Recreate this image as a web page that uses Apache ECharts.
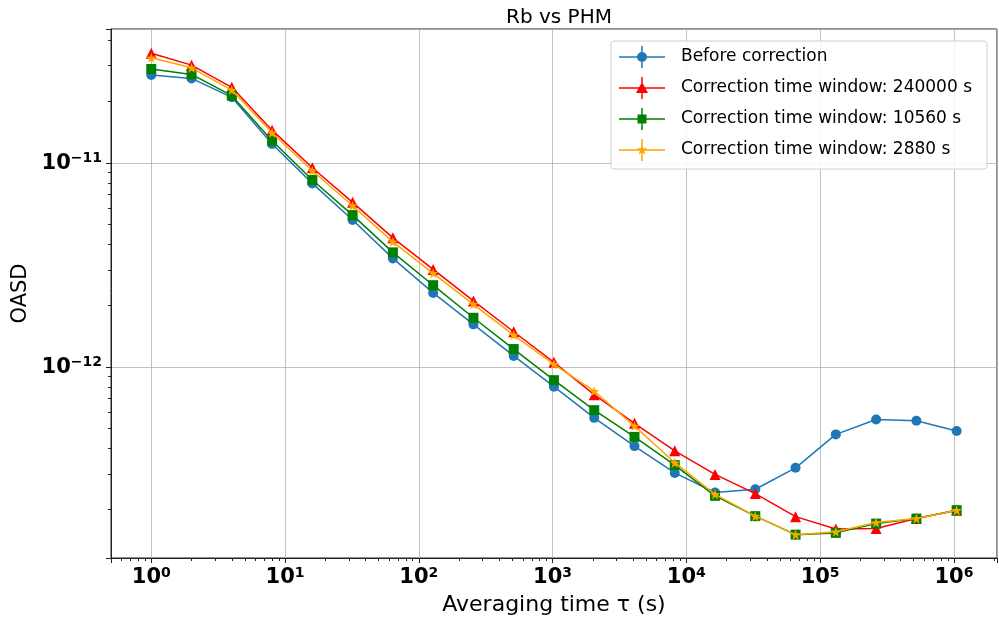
<!DOCTYPE html>
<html>
<head>
<meta charset="utf-8">
<script src="https://cdn.jsdelivr.net/npm/echarts@6/dist/echarts.min.js"></script>
<style>html,body{margin:0;padding:0;background:#fff}#chart{width:999px;height:622px}</style>
</head>
<body>
<div id="chart"></div>
<script>
// Averaging time tau (s)
const tau = [1, 2, 4, 8, 16, 32, 64, 128, 256, 512, 1024, 2048, 4096, 8192, 16384, 32768, 65536, 131072, 262144, 524288, 1048576];

const seriesNames = [
  'Before correction',
  'Correction time window: 240000 s',
  'Correction time window: 10560 s',
  'Correction time window: 2880 s'
];

const beforeCorrection = [2.70e-11, 2.60e-11, 2.10e-11, 1.24e-11, 7.95e-12, 5.26e-12, 3.41e-12, 2.31e-12, 1.62e-12, 1.135e-12, 8.02e-13, 5.64e-13, 4.10e-13, 3.03e-13, 2.43e-13, 2.52e-13, 3.21e-13, 4.68e-13, 5.54e-13, 5.46e-13, 4.86e-13];
const window240000 = [3.45e-11, 3.02e-11, 2.35e-11, 1.45e-11, 9.48e-12, 6.42e-12, 4.30e-12, 3.01e-12, 2.11e-12, 1.49e-12, 1.055e-12, 7.33e-13, 5.30e-13, 3.89e-13, 2.98e-13, 2.40e-13, 1.85e-13, 1.61e-13, 1.62e-13, 1.81e-13, 1.99e-13];
const window10560 = [2.89e-11, 2.72e-11, 2.14e-11, 1.286e-11, 8.26e-12, 5.56e-12, 3.65e-12, 2.52e-12, 1.745e-12, 1.226e-12, 8.63e-13, 6.15e-13, 4.55e-13, 3.31e-13, 2.34e-13, 1.86e-13, 1.51e-13, 1.54e-13, 1.71e-13, 1.81e-13, 1.99e-13];
const window2880 = [3.28e-11, 2.93e-11, 2.28e-11, 1.407e-11, 9.17e-12, 6.18e-12, 4.11e-12, 2.88e-12, 2.03e-12, 1.435e-12, 1.032e-12, 7.62e-13, 5.14e-13, 3.40e-13, 2.38e-13, 1.86e-13, 1.51e-13, 1.56e-13, 1.73e-13, 1.81e-13, 1.99e-13];

const colors = ['#1f77b4', '#ff0000', '#008000', '#ffa500'];

const starPath = 'path://M0,-10 L2.35,-3.24 9.51,-3.09 3.8,1.24 5.88,8.09 0,4 -5.88,8.09 -3.8,1.24 -9.51,-3.09 -2.35,-3.24 Z';
const bars = 'M0,10.25 h46 v1.5 h-46 Z M22.25,0 h1.5 v22 h-1.5 Z ';
const legendIcons = [
  'path://' + bars + 'M18,11 a5,5 0 1,1 10,0 a5,5 0 1,1 -10,0 Z',
  'path://' + bars + 'M23,5 L29,16 L17,16 Z',
  'path://' + bars + 'M18.5,6.5 h9 v9 h-9 Z',
  'path://' + bars + 'M23,5.5 L24.35,9.14 L28.23,9.30 L25.19,11.71 L26.23,15.45 L23,13.3 L19.77,15.45 L20.81,11.71 L17.77,9.30 L21.65,9.14 Z'
];
const symbols = ['circle', 'triangle', 'rect', starPath];
const symbolSizes = [10, 11, 10, 10];
const values = [beforeCorrection, window240000, window10560, window2880];

function pow10Label(v) {
  const l = Math.log10(v);
  const e = Math.round(l);
  if (Math.abs(l - e) > 1e-6) return '';
  const es = (e < 0 ? '\u2212' + (-e) : '' + e);
  return '{b|10}{s|' + es + '}';
}
const richLabel = {
  b: { fontFamily: 'DejaVu Sans', fontWeight: 'bold', fontSize: 21, color: '#000' },
  s: { fontFamily: 'DejaVu Sans', fontWeight: 'bold', fontSize: 14, color: '#000', padding: [0, 0, 9, 0] }
};

const chart = echarts.init(document.getElementById('chart'), null, { renderer: 'canvas' });
chart.setOption({
  animation: false,
  backgroundColor: '#fff',
  title: {
    text: 'Rb vs PHM',
    left: 554, top: 3, textAlign: 'center',
    textStyle: { fontFamily: 'DejaVu Sans', fontWeight: 'normal', fontSize: 20, color: '#000' }
  },
  grid: {
    left: 111, right: 2, top: 29, bottom: 64,
    containLabel: false,
    show: true, borderColor: '#222', borderWidth: 1, backgroundColor: 'transparent'
  },
  legend: {
    orient: 'vertical',
    left: 611, top: 41,
    padding: [5, 15, 8, 8],
    itemGap: 9,
    itemWidth: 46, itemHeight: 22,
    backgroundColor: 'rgba(255,255,255,0.85)',
    borderColor: '#d0d0d0', borderWidth: 1, borderRadius: 3,
    formatter: function (name) { return '{g|}' + name; },
    textStyle: {
      fontFamily: 'DejaVu Sans', fontSize: 17, color: '#000',
      rich: { g: { width: 11 } }
    },
    data: seriesNames.map((n, i) => ({ name: n, icon: legendIcons[i] }))
  },
  xAxis: {
    type: 'log', logBase: 10,
    min: 0.5, max: 2.1e6,
    name: 'Averaging time \u03c4 (s)',
    nameLocation: 'middle', nameGap: 36,
    nameTextStyle: { fontFamily: 'DejaVu Sans', fontSize: 22, color: '#000' },
    axisLine: { show: true, lineStyle: { color: '#222', width: 1 } },
    axisTick: { show: true, inside: false, length: 5, lineStyle: { color: '#222' } },
    minorTick: { show: true, splitNumber: 9, length: 3, lineStyle: { color: '#222' } },
    axisLabel: { margin: 8, formatter: pow10Label, rich: richLabel, showMinLabel: false, showMaxLabel: false },
    splitLine: { show: true, lineStyle: { color: '#b0b0b0', width: 0.8 } }
  },
  yAxis: {
    type: 'log', logBase: 10,
    min: 1.16e-13, max: 4.54e-11,
    name: 'OASD',
    nameLocation: 'middle', nameGap: 80, nameRotate: 90,
    nameTextStyle: { fontFamily: 'DejaVu Sans', fontSize: 21, color: '#000' },
    axisLine: { show: true, lineStyle: { color: '#222', width: 1 } },
    axisTick: { show: true, inside: false, length: 5, lineStyle: { color: '#222' } },
    minorTick: { show: true, splitNumber: 9, length: 3, lineStyle: { color: '#222' } },
    axisLabel: { margin: 9, formatter: pow10Label, rich: richLabel, showMinLabel: false, showMaxLabel: false },
    splitLine: { show: true, lineStyle: { color: '#b0b0b0', width: 0.8 } }
  },
  series: seriesNames.map((n, i) => ({
    name: n,
    type: 'line',
    data: tau.map((t, j) => [t, values[i][j]]),
    symbol: symbols[i],
    symbolSize: symbolSizes[i],
    showAllSymbol: true,
    itemStyle: { color: colors[i] },
    lineStyle: { color: colors[i], width: 1.5 },
    z: 2 + i
  }))
});
</script>
</body>
</html>
